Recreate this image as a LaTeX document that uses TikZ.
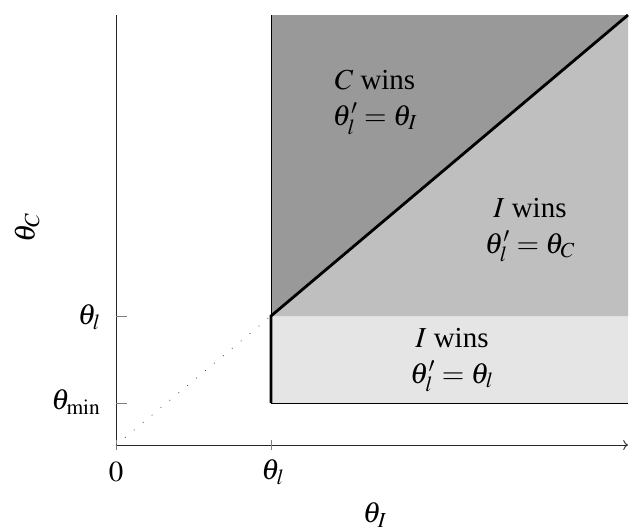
\documentclass[tikz,border=0pt]{standalone}
\usepackage{mathptmx}
\usepackage[no-math]{fontspec}
\setmainfont{Liberation Serif}
\usetikzlibrary{arrows.meta, positioning, calc}

\begin{document}
\begin{tikzpicture}[
  x=0.02cm, y=-0.02cm,
  font=\fontsize{16.5}{20.5}\selectfont,
  axis/.style  = {line width=0.5pt, black!85},
  tick/.style  = {line width=0.4pt, gray},
  bound/.style = {line width=1.6pt, black},
  edge/.style  = {line width=0.5pt, black},
  wins/.style  = {align=center, inner sep=0pt}
]
\useasboundingbox (0,0) rectangle (629,529);

% ── Corner points ────────────────────────────────────────────────────────────
\coordinate (O)    at (116,445);
\coordinate (kink) at (271,316);
\coordinate (low)  at (271,403);
\coordinate (topl) at (271,15);
\coordinate (topr) at (628,15);
\coordinate (midr) at (628,316);
\coordinate (lowr) at (628,403);
\coordinate (ytop) at (116,15);
\coordinate (xend) at (628,445);

% ── Regions ──────────────────────────────────────────────────────────────────
\fill[black!10] (low) rectangle (midr);
\fill[black!25] (kink) -- (topr) -- (midr) -- cycle;
\fill[black!40] (kink) -- (topl) -- (topr) -- cycle;

% ── Axes and ticks ───────────────────────────────────────────────────────────
\draw[axis] (ytop) -- (O);
\draw[axis, ->] (O) -- (xend);
\draw[tick] (116,440) -- (116,450);
\draw[tick] (271,440) -- (271,450);
\draw[tick] (116,316) -- (127,316);
\draw[tick] (116,403) -- (127,403);
\draw[dash pattern=on 0.5pt off 6.1pt, black!80] (O) -- (kink);

% ── Boundaries ───────────────────────────────────────────────────────────────
\draw[edge] (kink) -- (topl);
\draw[edge] (low) -- (lowr);
\draw[bound] (low) -- (kink) -- (topr);

% ── Tick and axis labels ─────────────────────────────────────────────────────
\node (x0)   at (116,472) {$0$};
\node (xl)   at (273,472) {$\theta_l$};
\node[anchor=east] (yl)   at (107,317) {$\theta_l$};
\node[anchor=east] (ymin) at (107,402) {$\theta_{\min}$};
\node[rotate=90] (ylab) at (27,228) {$\theta_C$};
\node (xlab) at (375,515) {$\theta_I$};

% ── Winner labels ────────────────────────────────────────────────────────────
\node[wins] (cwins)  at (375,102) {$C$ wins\\$\theta'_l=\theta_I$};
\node[wins] (iwinsu) at (530,230) {$I$ wins\\$\theta'_l=\theta_C$};
\node[wins] (iwinsl) at (452,360) {$I$ wins\\$\theta'_l=\theta_l$};

\end{tikzpicture}
\end{document}
